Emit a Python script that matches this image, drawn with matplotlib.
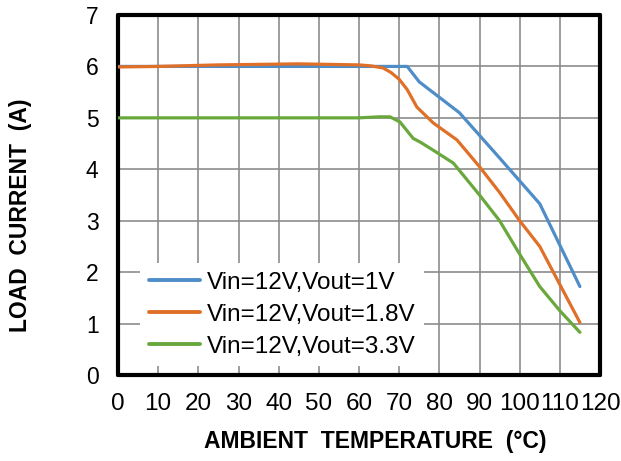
import matplotlib
matplotlib.use("Agg")
import matplotlib.pyplot as plt

plt.rcParams['font.family'] = ['Liberation Sans', 'DejaVu Sans']

# Data
temp_1v = [0, 20, 40, 60, 72, 75, 85, 95, 105, 115]
cur_1v = [6.0, 6.0, 6.0, 6.0, 6.0, 5.7, 5.1, 4.22, 3.33, 1.72]

temp_18v = [0, 10, 25, 45, 60, 63, 66, 68, 70, 72, 74.4, 78.5, 84.4, 90, 95, 100, 105, 115]
cur_18v = [5.99, 6.0, 6.03, 6.05, 6.03, 6.01, 5.97, 5.88, 5.75, 5.55, 5.21, 4.9, 4.57, 4.05, 3.55, 3.0, 2.5, 1.02]

temp_33v = [0, 20, 40, 60, 65, 67.7, 70.2, 73.5, 75.2, 78.5, 83.5, 90, 95, 100, 105, 110, 115]
cur_33v = [5.0, 5.0, 5.0, 5.0, 5.02, 5.02, 4.92, 4.6, 4.53, 4.37, 4.12, 3.5, 3.0, 2.35, 1.72, 1.25, 0.83]

series_labels = ['Vin=12V,Vout=1V', 'Vin=12V,Vout=1.8V', 'Vin=12V,Vout=3.3V']
series_colors = ['#4f8dc9', '#e07028', '#69a83d']

x_ticks = list(range(0, 121, 10))
y_ticks = list(range(0, 8))

W, H = 621, 461
fig = plt.figure(figsize=(W/100, H/100), dpi=100)
ax = fig.add_axes([118/W, 1-375/H, (600-118)/W, (375-15)/H])

for xs, ys, lab, col in zip([temp_1v, temp_18v, temp_33v],
                            [cur_1v, cur_18v, cur_33v],
                            series_labels, series_colors):
    ax.plot(xs, ys, color=col, lw=2.3, label=lab, solid_joinstyle='round',
            solid_capstyle='round', zorder=3)

ax.set_xlim(0, 120)
ax.set_ylim(0, 7)
ax.set_xticks(x_ticks)
ax.set_yticks(y_ticks)
ax.grid(True, color='#8c8c8c', lw=1.2, zorder=0)
ax.set_axisbelow(True)
ax.tick_params(axis='y', length=0, labelsize=16.5, pad=14)
ax.tick_params(axis='x', length=0, labelsize=17.5, pad=13)
for sp in ax.spines.values():
    sp.set_linewidth(3)
    sp.set_color('black')
    sp.set_capstyle('round')
    sp.set_joinstyle('round')

leg = ax.legend(loc='upper left', bbox_to_anchor=(140/W, 1-263/H),
                bbox_transform=fig.transFigure, frameon=True,
                fontsize=17.5, handlelength=2.1, handletextpad=0.3,
                labelspacing=0.42, borderpad=0.35, borderaxespad=0)
leg.get_frame().set_edgecolor('none')
leg.get_frame().set_facecolor('white')
leg.get_frame().set_alpha(1)
leg.set_zorder(2.5)
for line in leg.get_lines():
    line.set_linewidth(2.8)

fig.text(375/W, 1-441/H, 'AMBIENT  TEMPERATURE  (°C)', ha='center', va='center',
         fontsize=16.5, fontweight='bold')
fig.text(21/W, 1-215/H, 'LOAD  CURRENT  (A)', ha='center', va='center',
         fontsize=16.5, fontweight='bold', rotation=90)

fig.savefig('out.png', dpi=100)
